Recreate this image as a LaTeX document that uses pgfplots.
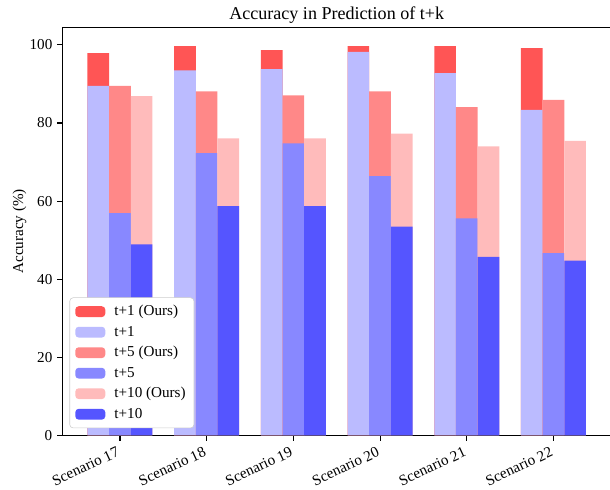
\documentclass[border=0pt]{standalone}
\usepackage{fontspec}
\setmainfont{Liberation Serif}
\usepackage{pgfplots}
\usepackage{pgfplotstable}
\pgfplotsset{compat=1.18}

\definecolor{oursA}{HTML}{FF5555}
\definecolor{baseA}{HTML}{BBBBFF}
\definecolor{oursB}{HTML}{FF8888}
\definecolor{baseB}{HTML}{8888FF}
\definecolor{oursC}{HTML}{FFBBBB}
\definecolor{baseC}{HTML}{5555FF}

% accuracy (%) per scenario: ours vs baseline for t+1, t+5, t+10
\pgfplotstableread{
x  o1    b1    o5    b5    o10   b10
0  97.9  89.5  89.5  56.9  86.9  48.9
1  99.7  93.5  88.1  72.3  76.1  58.7
2  98.7  93.8  87.1  74.8  76.1  58.7
3  99.7  98.2  88.1  66.4  77.3  53.5
4  99.7  92.8  84.1  55.6  74.0  45.7
5  99.2  83.4  85.9  46.7  75.4  44.8
}\acc

\begin{document}
\begin{tikzpicture}
\useasboundingbox (-45pt,-38.7pt) rectangle (394.15pt,313.5pt);
\begin{axis}[
  scale only axis,
  width=394.8pt, height=293.8pt,
  xmin=-0.6625, xmax=5.6625,
  ymin=0, ymax=104.5,
  ybar, bar width=0.25,
  axis line style={line width=0.8pt},
  tick align=outside,
  major tick length=3.8pt,
  tick style={line width=0.8pt, black},
  xtick={0,...,5},
  xticklabels={Scenario 17,Scenario 18,Scenario 19,Scenario 20,Scenario 21,Scenario 22},
  x tick label style={xshift=-2.8pt, yshift=-4pt, rotate=25, anchor=north east, inner sep=0pt, font=\fontsize{10.9}{12}\selectfont},
  ytick={0,20,...,100},
  y tick label style={font=\fontsize{10.9}{12}\selectfont},
  yticklabel style={/pgf/number format/assume math mode=true},
  xtick pos=bottom, ytick pos=left,
  every axis title/.style={at={(0.5,1)}, anchor=base, yshift=6pt, font=\fontsize{13}{15}\selectfont},
  title={Accuracy in Prediction of t+k},
  ylabel={Accuracy (\%)},
  every axis y label/.style={at={(0,0.5)}, xshift=-31pt, rotate=90, anchor=center, font=\fontsize{10.9}{12}\selectfont},
  legend cell align=left,
  legend image code/.code={\fill[#1,draw=none] (0pt,-3.9pt) rectangle (21.6pt,3.9pt);},
  legend style={at={(0,0)}, anchor=south west, xshift=5pt, yshift=5.2pt,
    draw=black!20, rounded corners=2.5pt, fill=white,
    font=\fontsize{10.9}{12}\selectfont, row sep=1.9pt, column sep=4.6pt,
    inner xsep=4pt, inner ysep=3.5pt},
]
\addplot[fill=oursA, draw=none, bar shift=-0.25] table[x=x,y=o1]{\acc};
\addlegendentry{t+1 (Ours)}
\addplot[fill=baseA, draw=none, bar shift=-0.25] table[x=x,y=b1]{\acc};
\addlegendentry{t+1}
\addplot[fill=oursB, draw=none, bar shift=0] table[x=x,y=o5]{\acc};
\addlegendentry{t+5 (Ours)}
\addplot[fill=baseB, draw=none, bar shift=0] table[x=x,y=b5]{\acc};
\addlegendentry{t+5}
\addplot[fill=oursC, draw=none, bar shift=0.25] table[x=x,y=o10]{\acc};
\addlegendentry{t+10 (Ours)}
\addplot[fill=baseC, draw=none, bar shift=0.25] table[x=x,y=b10]{\acc};
\addlegendentry{t+10}
\end{axis}
\end{tikzpicture}
\end{document}
